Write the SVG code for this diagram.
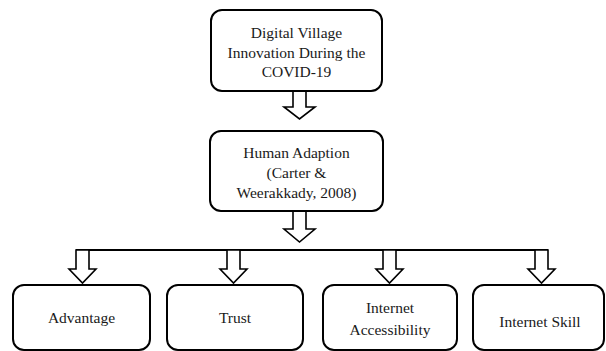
<svg xmlns="http://www.w3.org/2000/svg" width="606" height="351" viewBox="0 0 606 351">
<style>
.box{fill:#fff;stroke:#000;stroke-width:2}
.arr{fill:#fff;stroke:#000;stroke-width:1.6;stroke-linejoin:miter}
.ln{fill:none;stroke:#000;stroke-width:2}
.t{font-family:'Liberation Serif','DejaVu Serif',serif;font-size:15.5px;fill:#1a1a1a;text-anchor:middle}
</style>
<rect width="606" height="351" fill="#fff"/>
<g id="connectors">
<polygon class="arr" points="293,91 306,91 306,107 315,107 299.5,119 284,107 293,107"/>
<polygon class="arr" points="293,211 306,211 306,229 315,229 299.5,242 284,229 293,229"/>
<polyline class="ln" points="76,250 548,250"/>
<polygon class="arr" points="76,250 89,250 89,269 96,269 82.5,283 69,269 76,269"/>
<polygon class="arr" points="227,250 240,250 240,269 247,269 233.5,283 220,269 227,269"/>
<polygon class="arr" points="383,250 396,250 396,269 403,269 389.5,283 376,269 383,269"/>
<polygon class="arr" points="535,250 548,250 548,269 555,269 541.5,283 528,269 535,269"/>
</g>
<g id="digital-village">
<rect class="box" x="211" y="10" width="171" height="81" rx="11"/>
<text class="t" font-family="Liberation Serif, serif" x="296.5" y="38">Digital Village</text>
<text class="t" font-family="Liberation Serif, serif" x="296.5" y="58">Innovation During the</text>
<text class="t" font-family="Liberation Serif, serif" x="296.5" y="77">COVID-19</text>
</g>
<g id="human-adaption">
<rect class="box" x="210" y="131" width="173" height="80" rx="11"/>
<text class="t" x="296.5" y="158">Human Adaption</text>
<text class="t" x="296.5" y="178">(Carter &amp;</text>
<text class="t" x="296.5" y="198">Weerakkady, 2008)</text>
</g>
<g id="advantage">
<rect class="box" x="13" y="285" width="137" height="65" rx="11"/>
<text class="t" x="81.5" y="323">Advantage</text>
</g>
<g id="trust">
<rect class="box" x="167" y="285" width="136" height="65" rx="11"/>
<text class="t" x="235" y="323">Trust</text>
</g>
<g id="internet-accessibility">
<rect class="box" x="323" y="285" width="134" height="65" rx="11"/>
<text class="t" x="390" y="313">Internet</text>
<text class="t" x="390" y="335">Accessibility</text>
</g>
<g id="internet-skill">
<rect class="box" x="473" y="285" width="131" height="65" rx="11"/>
<text class="t" x="540" y="327">Internet Skill</text>
</g>
</svg>
